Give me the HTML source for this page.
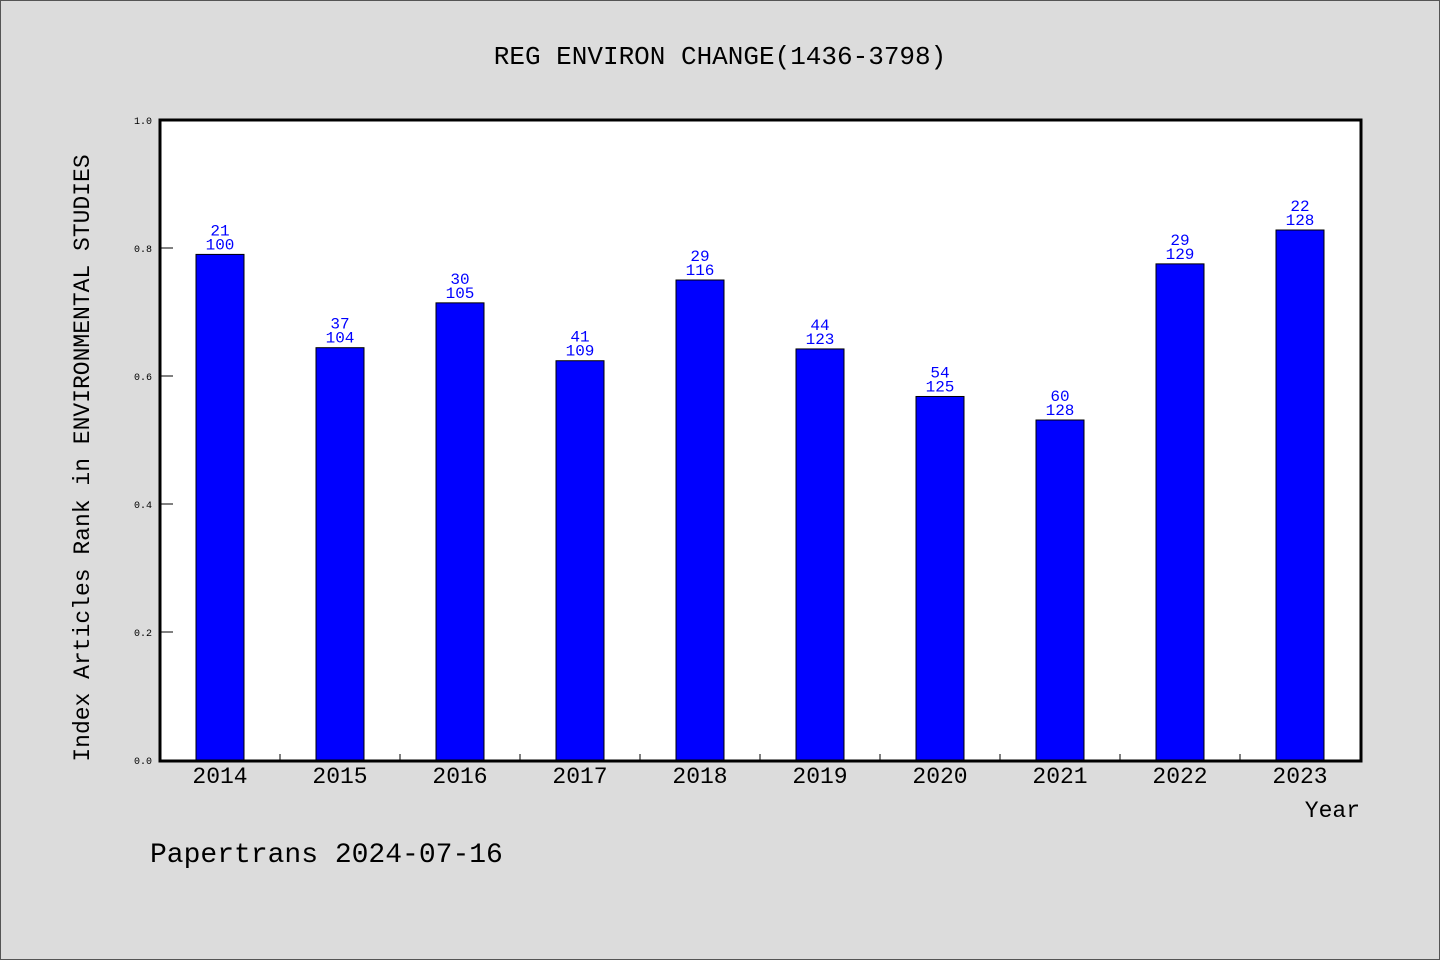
<!DOCTYPE html>
<html><head><meta charset="utf-8">
<style>
html,body{margin:0;padding:0;background:#dcdcdc;}
svg{display:block;}
text{font-family:"Liberation Mono","DejaVu Sans Mono",monospace;}
</style></head>
<body>
<svg id="chart" width="1440" height="960" viewBox="0 0 1440 960" xmlns="http://www.w3.org/2000/svg">
<rect x="0.5" y="0.5" width="1439" height="959" fill="#dcdcdc" stroke="#555" stroke-width="1"/>
<text x="720" y="64" font-size="26" text-anchor="middle" fill="#000">REG ENVIRON CHANGE(1436-3798)</text>
<rect x="160" y="120" width="1201" height="641" fill="#fff"/>
<g id="bars"></g>
<g id="yaxis"></g>
<g id="xaxis"></g>
<rect x="160" y="120" width="1201" height="641" fill="none" stroke="#000" stroke-width="3"/>
<text transform="translate(89,458) rotate(-90)" font-size="23" text-anchor="middle" fill="#000">Index Articles Rank in ENVIRONMENTAL STUDIES</text>
<text x="1360" y="817" font-size="23" text-anchor="end" fill="#000">Year</text>
<text x="150" y="862" font-size="28" fill="#000">Papertrans 2024-07-16</text>
</svg>
<script>
const years = ["2014","2015","2016","2017","2018","2019","2020","2021","2022","2023"];
const ranks = [21,37,30,41,29,44,54,60,29,22];
const totals = [100,104,105,109,116,123,125,128,129,128];
const yTicks = [0.0,0.2,0.4,0.6,0.8,1.0];
const yTickLabels = ["0.0","0.2","0.4","0.6","0.8","1.0"];

const NS="http://www.w3.org/2000/svg";
const X0=160, band=120, Y0=760, Y1=120;
const yScale=v=>Y0-(Y1-Y0)*-v;
const xCenter=i=>X0+band*i+band/2;
function mk(tag,attrs){const e=document.createElementNS(NS,tag);for(const k in attrs)e.setAttribute(k,attrs[k]);return e;}

const bars=document.getElementById('bars');
years.forEach((yr,i)=>{
  const v=1-ranks[i]/totals[i];
  const top=yScale(v), cx=xCenter(i);
  const r=mk('rect',{x:cx-24,y:top,width:48,height:Y0-top,fill:'#0000ff',stroke:'#000','stroke-width':1});
  
  
  bars.appendChild(r);
  const t1=mk('text',{x:cx,y:top-19,'font-size':16,'text-anchor':'middle',fill:'#0000ff'});
  t1.textContent=ranks[i];
  
  
  bars.appendChild(t1);
  const t2=mk('text',{x:cx,y:top-5,'font-size':16,'text-anchor':'middle',fill:'#0000ff'});
  t2.textContent=totals[i];
  
  
  bars.appendChild(t2);
});

const ya=document.getElementById('yaxis');
yTicks.forEach((v,i)=>{
  const y=yScale(v);
  const l=mk('line',{x1:160,x2:173,y1:y,y2:y,stroke:'#000','stroke-width':1});
  
  
  ya.appendChild(l);
  const t=mk('text',{x:152,y:y+4,'font-size':10,'text-anchor':'end',fill:'#000'});
  t.textContent=yTickLabels[i];
  
  
  ya.appendChild(t);
});

const xa=document.getElementById('xaxis');
years.forEach((yr,i)=>{
  if(i>0){
    const bx=X0+band*i;
    const l=mk('line',{x1:bx,x2:bx,y1:Y0,y2:Y0-6,stroke:'#000','stroke-width':1});
    
    
    xa.appendChild(l);
  }
  const t=mk('text',{x:xCenter(i),y:783,'font-size':23,'text-anchor':'middle',fill:'#000'});
  t.textContent=yr;
  
  
  xa.appendChild(t);
});
</script>
</body></html>
